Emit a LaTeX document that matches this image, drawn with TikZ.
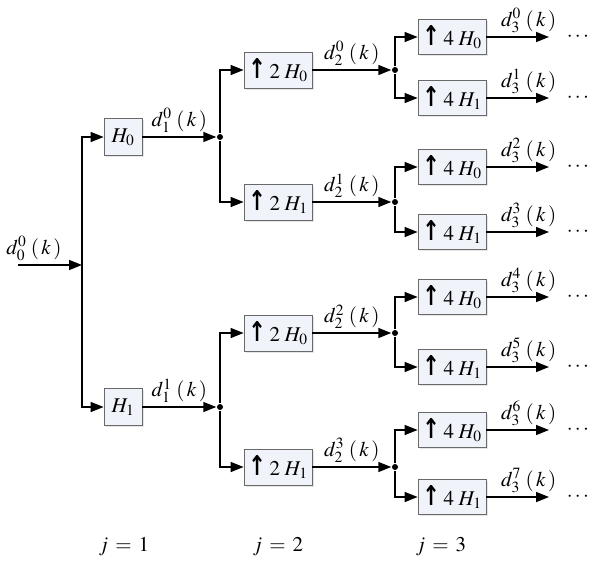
\documentclass[tikz,border=0pt]{standalone}
\usepackage{mathptmx}
\usepackage{fontspec}
\setmainfont{Liberation Serif}
\newfontfamily\arrfont{DejaVu Sans}
\usetikzlibrary{arrows.meta,shadows}
\definecolor{boxfill}{RGB}{240,244,250}
\definecolor{boxline}{RGB}{105,105,105}
\newcommand{\dk}[2]{$d_{#1}^{#2}\;(\,k\,)$}
\newcommand{\up}[2]{\scalebox{1}[1.3]{\arrfont\bfseries ↑}\,$#1\;H_{#2}$}
\tikzset{
  filt/.style={draw=boxline, fill=boxfill, line width=0.8pt, inner sep=0pt,
    minimum width=38pt, minimum height=37pt,
    drop shadow={shadow xshift=1.5pt, shadow yshift=-1.5pt, opacity=0.2}},
  upbox/.style={filt, minimum width=68pt, minimum height=36pt},
  dot/.style={circle, fill, inner sep=0pt, minimum size=6pt},
}

\begin{document}
\begin{tikzpicture}[x=1pt,y=-1pt,>={Triangle[length=13pt,width=10pt]},line width=1.5pt,
    font=\fontsize{21}{25}\selectfont]
    \useasboundingbox (0,0) rectangle (596,562);
    % level 1
    \coordinate (in) at (18,265);
    \coordinate (b0) at (82,265);
    \node[filt] (h0) at (123,137) {$H_0$};
    \node[filt] (h1) at (123,407) {$H_1$};
    \draw[->] (in) -- (b0) node[pos=0.25,above] {\dk{0}{0}};
    \draw[->] (b0) |- (h0.west);
    \draw[->] (b0) |- (h1.west);
    \node[dot] (ja) at (220,137) {};
    \node[dot] (jb) at (220,407) {};
    \draw[->] (h0.east) -- (ja) node[midway,above] {\dk{1}{0}};
    \draw[->] (h1.east) -- (jb) node[midway,above] {\dk{1}{1}};
    % level 2
    \node[upbox] (ua) at (278,70) {\up{2}{0}};
    \node[upbox] (ub) at (278,202) {\up{2}{1}};
    \node[upbox] (uc) at (278,333) {\up{2}{0}};
    \node[upbox] (ud) at (278,467) {\up{2}{1}};
    \draw[->] (ja) |- (ua.west);
    \draw[->] (ja) |- (ub.west);
    \draw[->] (jb) |- (uc.west);
    \draw[->] (jb) |- (ud.west);
    \node[dot] (ka) at (395,70) {};
    \node[dot] (kb) at (395,202) {};
    \node[dot] (kc) at (395,333) {};
    \node[dot] (kd) at (395,467) {};
    \draw[->] (ua.east) -- (ka) node[midway,above] {\dk{2}{0}};
    \draw[->] (ub.east) -- (kb) node[midway,above] {\dk{2}{1}};
    \draw[->] (uc.east) -- (kc) node[midway,above] {\dk{2}{2}};
    \draw[->] (ud.east) -- (kd) node[midway,above] {\dk{2}{3}};
    % level 3
    \foreach \g/\ya/\yb/\na/\nb in {a/37/98/0/1, b/167/232/2/3, c/297/367/4/5, d/430/497/6/7} {
      \node[upbox,minimum height=35pt] (f\na) at (452,\ya) {\up{4}{0}};
      \node[upbox,minimum height=35pt] (f\nb) at (452,\yb) {\up{4}{1}};
      \draw[->] (k\g) |- (f\na.west);
      \draw[->] (k\g) |- (f\nb.west);
      \coordinate (o\na) at (549,\ya);
      \coordinate (o\nb) at (549,\yb);
      \draw[->] (f\na.east) -- (o\na) node[midway,above,xshift=11pt] {\dk{3}{\na}};
      \draw[->] (f\nb.east) -- (o\nb) node[midway,above,xshift=11pt] {\dk{3}{\nb}};
      \node[right,inner sep=0pt] (e\na) at ([xshift=17pt]o\na) {$\cdots$};
      \node[right,inner sep=0pt] (e\nb) at ([xshift=17pt]o\nb) {$\cdots$};
    }
    \node (s1) at (124,547) {$j\,=\,1$};
    \node (s2) at (278,547) {$j\,=\,2$};
    \node (s3) at (441,547) {$j\,=\,3$};
  \end{tikzpicture}
\end{document}
